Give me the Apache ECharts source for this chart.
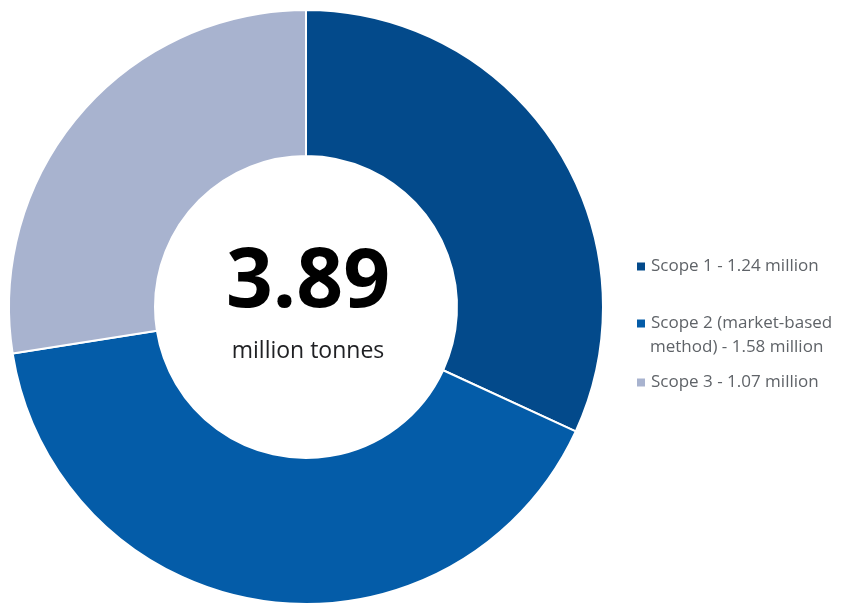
<!DOCTYPE html>
<html><head><meta charset="utf-8">
<script src="https://cdn.jsdelivr.net/npm/echarts@6/dist/echarts.min.js"></script>
<style>html,body{margin:0;padding:0;background:#fff}#c{width:841px;height:604px}</style>
</head><body><div id="c"></div>
<script>
const categories = ['Scope 1 - 1.24 million', 'Scope 2 (market-based method) - 1.58 million', 'Scope 3 - 1.07 million'];
const legendLines = [['Scope 1 - 1.24 million'], ['Scope 2 (market-based', 'method) - 1.58 million'], ['Scope 3 - 1.07 million']];
const values = [1.24, 1.58, 1.07];
const colors = ['#034a8b', '#045ca8', '#a8b3cf'];
const totalLabel = '3.89';
const unitLabel = 'million tonnes';

const chart = echarts.init(document.getElementById('c'));
const legendTops = [253, 310, 369];
const legendFont = { color: '#5f6368', fontSize: 17, fontFamily: 'Open Sans' };
const legendBase = {
  orient: 'vertical', left: 630, itemWidth: 10, itemHeight: 10, itemGap: 0,
  icon: 'rect', textStyle: legendFont
};
chart.setOption({
  animation: false,
  legend: categories.map((c, i) => Object.assign({}, legendBase, {
    top: legendTops[i], data: [c], formatter: () => legendLines[i][0]
  })),
  graphic: [
    { type: 'text', style: { text: totalLabel, fill: '#000', font: 'bold 82px "Open Sans"', textAlign: 'center', textVerticalAlign: 'middle' }, x: 308, y: 284, silent: true },
    { type: 'text', style: { text: unitLabel, fill: '#202124', font: '23px "Open Sans"', textAlign: 'center', textVerticalAlign: 'middle' }, x: 308, y: 351, silent: true },
    { type: 'text', style: { text: legendLines[1][1], fill: legendFont.color, font: '17px "Open Sans"', textAlign: 'left', textVerticalAlign: 'middle' }, x: 650, y: 347, silent: true }
  ],
  series: [{
    type: 'pie',
    center: [306, 307],
    radius: [151, 297],
    startAngle: 90,
    clockwise: true,
    label: { show: false },
    labelLine: { show: false },
    itemStyle: { borderColor: '#fff', borderWidth: 2 },
    emphasis: { disabled: true },
    data: categories.map((c, i) => ({ name: c, value: values[i], itemStyle: { color: colors[i] } }))
  }]
});
</script></body></html>
